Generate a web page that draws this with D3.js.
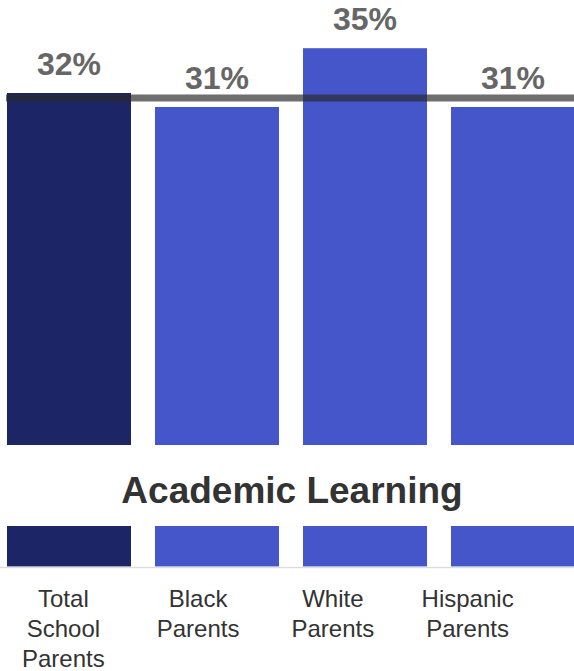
<!DOCTYPE html>
<html>
<head>
<meta charset="utf-8">
<script src="https://cdn.jsdelivr.net/npm/d3@7"></script>
<style>
  html, body { margin: 0; padding: 0; background: #fff; }
  svg { display: block; }
  text { font-family: "Liberation Sans", Arial, sans-serif; }
</style>
</head>
<body>
<script>
const categories = ["Total School Parents", "Black Parents", "White Parents", "Hispanic Parents"];
const labelLines = [["Total", "School", "Parents"], ["Black", "Parents"], ["White", "Parents"], ["Hispanic", "Parents"]];
const values = [32, 31, 35.2, 31];
const averageValue = 31.65;
const title = "Academic Learning";
const colors = ["#1c2566", "#4556cb", "#4556cb", "#4556cb"];

const W = 574, H = 671;
const svg = d3.select("body").append("svg").attr("width", W).attr("height", H);

const x = d3.scaleBand().domain(categories).range([-5, 587])
  .paddingInner(24 / 148).paddingOuter(12 / 148);
const xl = d3.scaleBand().domain(categories).range([-4, 535]);

// upper (broken) segment of the value axis
const y = d3.scaleLinear().domain([31, 32]).range([107, 93]);
const upperBottom = 445;
const lowerTop = 526, lowerBottom = 566.5;

const data = categories.map((c, i) => ({ c, v: values[i], color: colors[i] }));

// upper bars
svg.append("g").selectAll("rect").data(data).join("rect")
  .attr("x", d => x(d.c)).attr("width", x.bandwidth())
  .attr("y", d => y(d.v)).attr("height", d => upperBottom - y(d.v))
  .attr("fill", d => d.color);

// lower stubs
svg.append("g").selectAll("rect").data(data).join("rect")
  .attr("x", d => x(d.c)).attr("width", x.bandwidth())
  .attr("y", lowerTop).attr("height", lowerBottom - lowerTop)
  .attr("fill", d => d.color);

// average line
svg.append("line")
  .attr("x1", 6).attr("x2", W)
  .attr("y1", y(averageValue)).attr("y2", y(averageValue))
  .attr("stroke", "#2a2a2a").attr("stroke-opacity", 0.68).attr("stroke-width", 7);

// value labels
svg.append("g").selectAll("text").data(data).join("text")
  .attr("x", d => x(d.c) + x.bandwidth() / 2)
  .attr("y", d => y(d.v) - 18)
  .attr("text-anchor", "middle")
  .attr("font-size", 32).attr("font-weight", "bold").attr("fill", "#666666")
  .text(d => Math.round(d.v) + "%");

// title
svg.append("text")
  .attr("x", 292).attr("y", 502.5)
  .attr("text-anchor", "middle")
  .attr("font-size", 37).attr("font-weight", "bold").attr("fill", "#333333")
  .text(title);

// baseline axis
const axis = d3.axisBottom(xl).tickSize(0).tickFormat("");
const ag = svg.append("g").attr("transform", `translate(0,567.5)`).call(axis);
ag.select(".domain").attr("stroke", "#dddddd").attr("stroke-width", 1.5).attr("d", `M0,0H${W}`);

// category labels
const lg = svg.append("g");
categories.forEach((c, i) => {
  const t = lg.append("text")
    .attr("x", xl(c) + xl.bandwidth() / 2)
    .attr("y", 607)
    .attr("text-anchor", "middle")
    .attr("font-size", 24).attr("fill", "#333333");
  labelLines[i].forEach((ln, j) => {
    t.append("tspan").attr("x", xl(c) + xl.bandwidth() / 2).attr("dy", j === 0 ? 0 : 30).text(ln);
  });
});
</script>
</body>
</html>
